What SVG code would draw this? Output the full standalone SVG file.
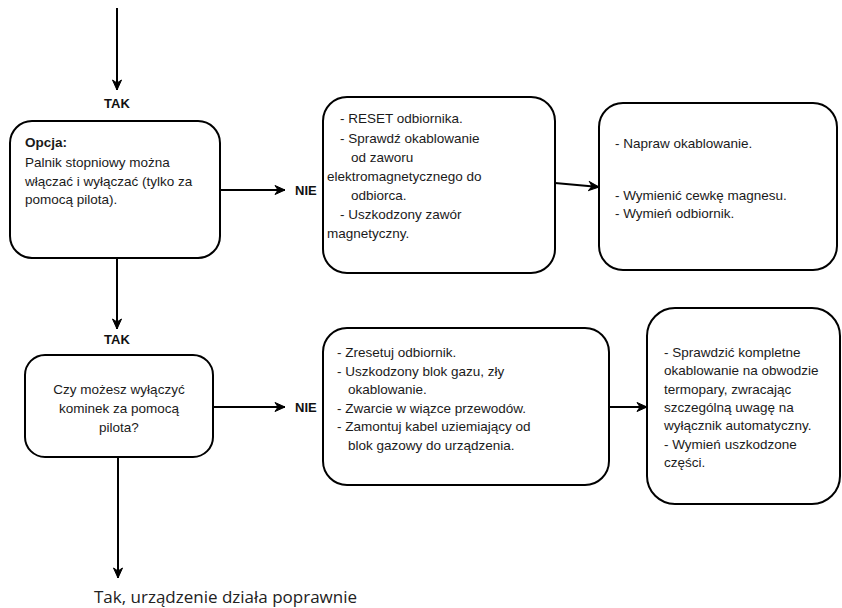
<svg xmlns="http://www.w3.org/2000/svg" width="842" height="608" viewBox="0 0 842 608">
  <defs>
    <marker id="arr" markerUnits="userSpaceOnUse" markerWidth="12" markerHeight="12" viewBox="0 0 12 12" refX="11" refY="6" orient="auto">
      <path d="M1,1.5 L11,6 L1,10.5 L4,6 Z" fill="#000" stroke="#000" stroke-width="1" stroke-linejoin="miter"/>
    </marker>
  </defs>
  <style>
    .box { fill: #fff; stroke: #000; stroke-width: 2; }
    .t { font-family: "Liberation Sans", Arial, sans-serif; font-size: 13.5px; fill: #1a1a1a; }
    .b { font-family: "Liberation Sans", Arial, sans-serif; font-size: 13px; font-weight: bold; fill: #111; }
    .c { text-anchor: middle; }
    .line { stroke: #000; stroke-width: 2; fill: none; }
    .big { font-family: "Open Sans", "Noto Sans", sans-serif; font-size: 17px; fill: #222; }
  </style>
  <rect width="842" height="608" fill="#fff"/>

  <g id="connectors">
    <line class="line" x1="117" y1="8" x2="117" y2="90" marker-end="url(#arr)"/>
    <line class="line" x1="220" y1="190" x2="285" y2="190" marker-end="url(#arr)"/>
    <line class="line" x1="117" y1="258" x2="117" y2="329" marker-end="url(#arr)"/>
    <line class="line" x1="213" y1="407" x2="285" y2="407" marker-end="url(#arr)"/>
    <line class="line" x1="118" y1="457" x2="118" y2="578" marker-end="url(#arr)"/>
    <line class="line" x1="555" y1="183" x2="599" y2="187" marker-end="url(#arr)"/>
    <line class="line" x1="608" y1="407" x2="647" y2="407" marker-end="url(#arr)"/>
  </g>

  <g id="labels">
    <text class="b c" x="117" y="108">TAK</text>
    <text class="b" x="295" y="195">NIE</text>
    <text class="b c" x="117" y="344">TAK</text>
    <text class="b" x="295" y="412">NIE</text>
    <text class="big" x="94" y="603">Tak, urządzenie działa poprawnie</text>
  </g>

  <g id="node-opcja">
    <rect class="box" x="10" y="121" width="210" height="137" rx="22"/>
    <text class="t" x="25" y="147" font-weight="bold">Opcja:</text>
    <text class="t" x="25" y="167">Palnik stopniowy można</text>
    <text class="t" x="25" y="186">włączać i wyłączać (tylko za</text>
    <text class="t" x="25" y="204">pomocą pilota).</text>
  </g>

  <g id="node-reset">
    <rect class="box" x="323" y="97" width="232" height="176" rx="24"/>
    <text class="t" x="340" y="123">- RESET odbiornika.</text>
    <text class="t" x="340" y="142.5">- Sprawdź okablowanie</text>
    <text class="t" x="351" y="162">od zaworu</text>
    <text class="t" x="327" y="181">elektromagnetycznego do</text>
    <text class="t" x="351" y="200">odbiorca.</text>
    <text class="t" x="340" y="219">- Uszkodzony zawór</text>
    <text class="t" x="327" y="238">magnetyczny.</text>
  </g>

  <g id="node-napraw">
    <rect class="box" x="599" y="103" width="238" height="167" rx="24"/>
    <text class="t" x="615" y="148">- Napraw okablowanie.</text>
    <text class="t" x="615" y="200">- Wymienić cewkę magnesu.</text>
    <text class="t" x="615" y="218">- Wymień odbiornik.</text>
  </g>

  <g id="node-pilot">
    <rect class="box" x="25" y="355" width="188" height="102" rx="20"/>
    <text class="t c" x="119" y="394">Czy możesz wyłączyć</text>
    <text class="t c" x="119" y="413">kominek za pomocą</text>
    <text class="t c" x="119" y="432">pilota?</text>
  </g>

  <g id="node-zresetuj">
    <rect class="box" x="323" y="328" width="286" height="157" rx="24"/>
    <text class="t" x="337" y="357">- Zresetuj odbiornik.</text>
    <text class="t" x="337" y="375.5">- Uszkodzony blok gazu, zły</text>
    <text class="t" x="348" y="394">okablowanie.</text>
    <text class="t" x="337" y="412.5">- Zwarcie w wiązce przewodów.</text>
    <text class="t" x="337" y="431">- Zamontuj kabel uziemiający od</text>
    <text class="t" x="348" y="449.5">blok gazowy do urządzenia.</text>
  </g>

  <g id="node-sprawdzic">
    <rect class="box" x="647" y="308" width="193" height="196" rx="28"/>
    <text class="t" x="664" y="357">- Sprawdzić kompletne</text>
    <text class="t" x="664" y="375">okablowanie na obwodzie</text>
    <text class="t" x="664" y="393.5">termopary, zwracając</text>
    <text class="t" x="664" y="412">szczególną uwagę na</text>
    <text class="t" x="664" y="430">wyłącznik automatyczny.</text>
    <text class="t" x="664" y="448.5">- Wymień uszkodzone</text>
    <text class="t" x="664" y="467">części.</text>
  </g>
</svg>
